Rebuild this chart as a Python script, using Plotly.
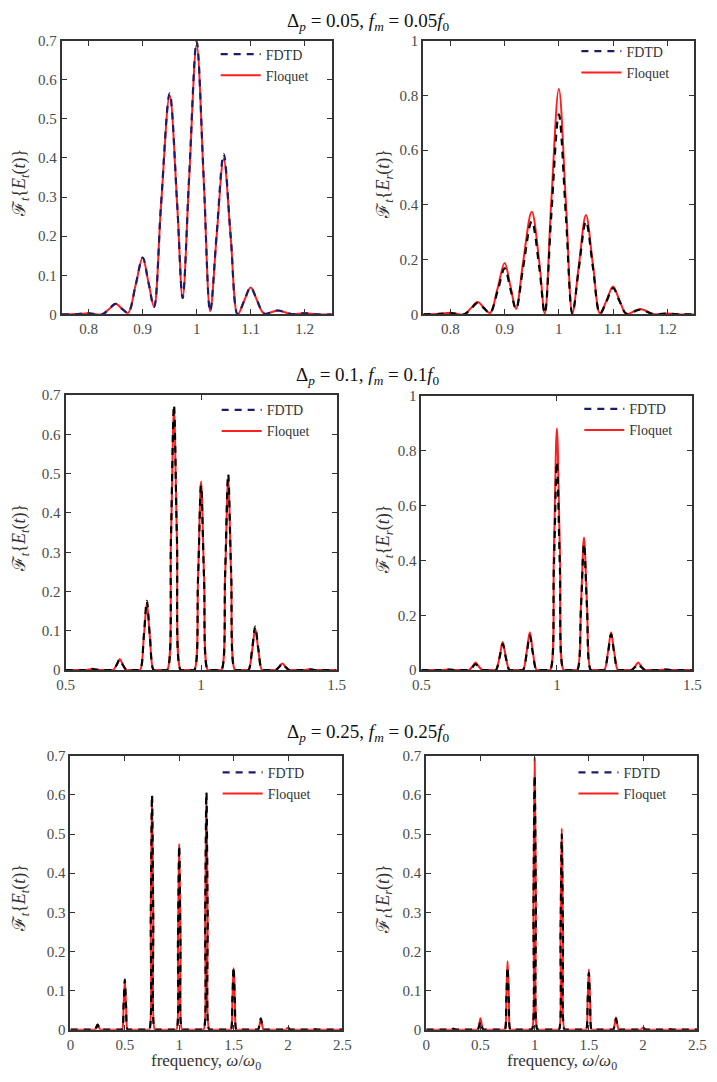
import plotly.graph_objects as go

W, H = 717, 1082

# ---------------- data ----------------
freq_top = [0.75, 0.78, 0.80, 0.825, 0.838, 0.85, 0.862, 0.873, 0.887, 0.90, 0.911,
            0.921, 0.934, 0.95, 0.964, 0.974, 0.986, 1.0, 1.013, 1.025, 1.037, 1.05,
            1.063, 1.076, 1.088, 1.10, 1.112, 1.125, 1.15, 1.175, 1.20, 1.225, 1.25]

p1_fdtd = [0, 0.001, 0.003, 0.0, 0.014, 0.027, 0.014, 0.004, 0.075, 0.145, 0.08,
           0.019, 0.28, 0.565, 0.28, 0.042, 0.35, 0.697, 0.35, 0.008, 0.205, 0.41,
           0.2, 0.0, 0.035, 0.069, 0.035, 0.002, 0.01, 0.001, 0.003, 0.0, 0.0]
p1_floq = [0, 0.001, 0.003, 0.0, 0.014, 0.027, 0.014, 0.004, 0.075, 0.145, 0.08,
           0.019, 0.278, 0.56, 0.278, 0.042, 0.345, 0.69, 0.345, 0.008, 0.2, 0.397,
           0.197, 0.0, 0.035, 0.069, 0.035, 0.002, 0.01, 0.001, 0.003, 0.0, 0.0]

p2_fdtd = [0, 0.002, 0.005, 0.0, 0.021, 0.042, 0.022, 0.005, 0.085, 0.168, 0.09,
           0.02, 0.17, 0.34, 0.17, 0.004, 0.36, 0.73, 0.36, 0.003, 0.17, 0.34,
           0.17, 0.003, 0.048, 0.096, 0.048, 0.002, 0.017, 0.001, 0.003, 0.0, 0.0]
p2_floq = [0, 0.002, 0.006, 0.0, 0.023, 0.045, 0.024, 0.005, 0.095, 0.188, 0.1,
           0.02, 0.19, 0.375, 0.19, 0.003, 0.41, 0.823, 0.41, 0.003, 0.18, 0.363,
           0.18, 0.003, 0.051, 0.102, 0.051, 0.002, 0.02, 0.001, 0.003, 0.0, 0.0]

freq_mid = [0.5,
            0.565, 0.575, 0.589, 0.6, 0.611, 0.625, 0.635,
            0.665, 0.675, 0.689, 0.7, 0.711, 0.725, 0.735,
            0.765, 0.775, 0.789, 0.8, 0.811, 0.825, 0.835,
            0.865, 0.875, 0.889, 0.9, 0.911, 0.925, 0.935,
            0.965, 0.975, 0.989, 1.0, 1.011, 1.025, 1.035,
            1.065, 1.075, 1.089, 1.1, 1.111, 1.125, 1.135,
            1.165, 1.175, 1.189, 1.2, 1.211, 1.225, 1.235,
            1.265, 1.275, 1.289, 1.3, 1.311, 1.325, 1.335,
            1.365, 1.375, 1.389, 1.4, 1.411, 1.425, 1.435,
            1.5]

p3_fdtd = [0,
           0, 0, 0.0015, 0.003, 0.0015, 0, 0,
           0, 0, 0.0135, 0.027, 0.0135, 0, 0,
           0, 0, 0.088, 0.176, 0.088, 0, 0,
           0, 0, 0.338, 0.675, 0.338, 0, 0,
           0, 0, 0.235, 0.47, 0.235, 0, 0,
           0, 0, 0.25, 0.499, 0.25, 0, 0,
           0, 0, 0.056, 0.111, 0.056, 0, 0,
           0, 0, 0.0085, 0.017, 0.0085, 0, 0,
           0, 0, 0.001, 0.002, 0.001, 0, 0,
           0]
p3_floq = [0,
           0, 0, 0.0015, 0.003, 0.0015, 0, 0,
           0, 0, 0.014, 0.028, 0.014, 0, 0,
           0, 0, 0.085, 0.17, 0.085, 0, 0,
           0, 0, 0.333, 0.665, 0.333, 0, 0,
           0, 0, 0.24, 0.48, 0.24, 0, 0,
           0, 0, 0.243, 0.486, 0.243, 0, 0,
           0, 0, 0.053, 0.105, 0.053, 0, 0,
           0, 0, 0.0085, 0.017, 0.0085, 0, 0,
           0, 0, 0.001, 0.002, 0.001, 0, 0,
           0]

p4_fdtd = [0,
           0, 0, 0.001, 0.002, 0.001, 0, 0,
           0, 0, 0.011, 0.022, 0.011, 0, 0,
           0, 0, 0.048, 0.095, 0.048, 0, 0,
           0, 0, 0.063, 0.126, 0.063, 0, 0,
           0, 0, 0.38, 0.76, 0.38, 0, 0,
           0, 0, 0.23, 0.46, 0.23, 0, 0,
           0, 0, 0.065, 0.13, 0.065, 0, 0,
           0, 0, 0.011, 0.022, 0.011, 0, 0,
           0, 0, 0.001, 0.002, 0.001, 0, 0,
           0]
p4_floq = [0,
           0, 0, 0.001, 0.002, 0.001, 0, 0,
           0, 0, 0.014, 0.028, 0.014, 0, 0,
           0, 0, 0.051, 0.102, 0.051, 0, 0,
           0, 0, 0.069, 0.138, 0.069, 0, 0,
           0, 0, 0.441, 0.882, 0.441, 0, 0,
           0, 0, 0.242, 0.484, 0.242, 0, 0,
           0, 0, 0.069, 0.138, 0.069, 0, 0,
           0, 0, 0.014, 0.028, 0.014, 0, 0,
           0, 0, 0.001, 0.002, 0.001, 0, 0,
           0]

freq_bot = [0,
            0.215, 0.225, 0.239, 0.25, 0.261, 0.275, 0.285,
            0.465, 0.475, 0.489, 0.5, 0.511, 0.525, 0.535,
            0.715, 0.725, 0.739, 0.75, 0.761, 0.775, 0.785,
            0.965, 0.975, 0.989, 1.0, 1.011, 1.025, 1.035,
            1.215, 1.225, 1.239, 1.25, 1.261, 1.275, 1.285,
            1.465, 1.475, 1.489, 1.5, 1.511, 1.525, 1.535,
            1.715, 1.725, 1.739, 1.75, 1.761, 1.775, 1.785,
            1.965, 1.975, 1.989, 2.0, 2.011, 2.025, 2.035,
            2.215, 2.225, 2.239, 2.25, 2.261, 2.275, 2.285,
            2.5]

p5_fdtd = [0,
           0, 0, 0.0065, 0.013, 0.0065, 0, 0,
           0, 0, 0.064, 0.128, 0.064, 0, 0,
           0, 0, 0.3, 0.6, 0.3, 0, 0,
           0, 0, 0.235, 0.47, 0.235, 0, 0,
           0, 0, 0.304, 0.607, 0.304, 0, 0,
           0, 0, 0.08, 0.16, 0.08, 0, 0,
           0, 0, 0.0145, 0.029, 0.0145, 0, 0,
           0, 0, 0.0025, 0.005, 0.0025, 0, 0,
           0, 0, 0.0005, 0.001, 0.0005, 0, 0,
           0]
p5_floq = [0,
           0, 0, 0.0065, 0.013, 0.0065, 0, 0,
           0, 0, 0.063, 0.125, 0.063, 0, 0,
           0, 0, 0.299, 0.597, 0.299, 0, 0,
           0, 0, 0.238, 0.475, 0.238, 0, 0,
           0, 0, 0.297, 0.593, 0.297, 0, 0,
           0, 0, 0.079, 0.157, 0.079, 0, 0,
           0, 0, 0.0135, 0.027, 0.0135, 0, 0,
           0, 0, 0.0025, 0.005, 0.0025, 0, 0,
           0, 0, 0.0005, 0.001, 0.0005, 0, 0,
           0]

p6_fdtd = [0,
           0, 0, 0.001, 0.002, 0.001, 0, 0,
           0, 0, 0.01, 0.02, 0.01, 0, 0,
           0, 0, 0.08, 0.16, 0.08, 0, 0,
           0, 0, 0.325, 0.65, 0.325, 0, 0,
           0, 0, 0.25, 0.5, 0.25, 0, 0,
           0, 0, 0.073, 0.145, 0.073, 0, 0,
           0, 0, 0.014, 0.028, 0.014, 0, 0,
           0, 0, 0.0025, 0.005, 0.0025, 0, 0,
           0, 0, 0.0005, 0.001, 0.0005, 0, 0,
           0]
p6_floq = [0,
           0, 0, 0.0015, 0.003, 0.0015, 0, 0,
           0, 0, 0.0145, 0.029, 0.0145, 0, 0,
           0, 0, 0.088, 0.175, 0.088, 0, 0,
           0, 0, 0.347, 0.694, 0.347, 0, 0,
           0, 0, 0.258, 0.515, 0.258, 0, 0,
           0, 0, 0.077, 0.154, 0.077, 0, 0,
           0, 0, 0.0155, 0.031, 0.0155, 0, 0,
           0, 0, 0.0025, 0.005, 0.0025, 0, 0,
           0, 0, 0.0005, 0.001, 0.0005, 0, 0,
           0]

# tick values / labels
xt_top = [0.8, 0.9, 1.0, 1.1, 1.2]
xt_top_lbl = ["0.8", "0.9", "1", "1.1", "1.2"]
xt_mid = [0.5, 1.0, 1.5]
xt_mid_lbl = ["0.5", "1", "1.5"]
xt_bot = [0, 0.5, 1.0, 1.5, 2.0, 2.5]
xt_bot_lbl = ["0", "0.5", "1", "1.5", "2", "2.5"]
yt_07 = [0, 0.1, 0.2, 0.3, 0.4, 0.5, 0.6, 0.7]
yt_07_lbl = ["0", "0.1", "0.2", "0.3", "0.4", "0.5", "0.6", "0.7"]
yt_10 = [0, 0.2, 0.4, 0.6, 0.8, 1.0]
yt_10_lbl = ["0", "0.2", "0.4", "0.6", "0.8", "1"]

row_titles = [
    "Δ<sub><i>p</i></sub> = 0.05, <i>f</i><sub><i>m</i></sub> = 0.05<i>f</i><sub>0</sub>",
    "Δ<sub><i>p</i></sub> = 0.1, <i>f</i><sub><i>m</i></sub> = 0.1<i>f</i><sub>0</sub>",
    "Δ<sub><i>p</i></sub> = 0.25, <i>f</i><sub><i>m</i></sub> = 0.25<i>f</i><sub>0</sub>",
]
ylab_t = "ℱ<sub><i>t</i></sub>{<i>E</i><sub><i>t</i></sub>(<i>t</i>)}"
ylab_r = "ℱ<sub><i>t</i></sub>{<i>E</i><sub><i>r</i></sub>(<i>t</i>)}"
xlab = "frequency, <i>ω</i>/<i>ω</i><sub>0</sub>"

# ---------------- styling / layout ----------------
SERIF = "Liberation Serif, Times New Roman, DejaVu Serif, serif"
NAVY = "#1c1c6e"
RED = "#ff1f1f"
AXC = "#333333"
TICKC = "#4a4a4a"

# pixel boxes (left, right, top, bottom)
boxes = [(54, 331, 33, 311), (425, 703, 33, 311),
         (58, 336, 393, 672), (423, 701, 394, 672),
         (63, 342, 759, 1037), (428, 706, 759, 1037)]
legend_pos = [(212, 31), (582, 28), (213, 392), (585, 391), (214, 760), (579, 760)]

panels = [
    dict(x=freq_top, fd=p1_fdtd, fq=p1_floq, xr=[0.75, 1.25], yr=[0, 0.7],
         xt=xt_top, xtl=xt_top_lbl, yt=yt_07, ytl=yt_07_lbl, lab=ylab_t, fdc=NAVY),
    dict(x=freq_top, fd=p2_fdtd, fq=p2_floq, xr=[0.75, 1.25], yr=[0, 1.0],
         xt=xt_top, xtl=xt_top_lbl, yt=yt_10, ytl=yt_10_lbl, lab=ylab_r, fdc="#000000"),
    dict(x=freq_mid, fd=p3_fdtd, fq=p3_floq, xr=[0.5, 1.5], yr=[0, 0.7],
         xt=xt_mid, xtl=xt_mid_lbl, yt=yt_07, ytl=yt_07_lbl, lab=ylab_t, fdc="#000000"),
    dict(x=freq_mid, fd=p4_fdtd, fq=p4_floq, xr=[0.5, 1.5], yr=[0, 1.0],
         xt=xt_mid, xtl=xt_mid_lbl, yt=yt_10, ytl=yt_10_lbl, lab=ylab_r, fdc="#000000"),
    dict(x=freq_bot, fd=p5_fdtd, fq=p5_floq, xr=[0, 2.5], yr=[0, 0.7],
         xt=xt_bot, xtl=xt_bot_lbl, yt=yt_07, ytl=yt_07_lbl, lab=ylab_t, fdc="#000000"),
    dict(x=freq_bot, fd=p6_fdtd, fq=p6_floq, xr=[0, 2.5], yr=[0, 0.7],
         xt=xt_bot, xtl=xt_bot_lbl, yt=yt_07, ytl=yt_07_lbl, lab=ylab_r, fdc="#000000"),
]

fig = go.Figure()
layout = dict(width=W, height=H, margin=dict(l=0, r=0, t=0, b=0),
              paper_bgcolor="white", plot_bgcolor="white", showlegend=True,
              font=dict(family=SERIF, size=15, color=AXC))
annotations = []

DASH = "7px,6px"

for i, p in enumerate(panels):
    n = i + 1
    xa = "x" if n == 1 else f"x{n}"
    ya = "y" if n == 1 else f"y{n}"
    lg = "legend" if n == 1 else f"legend{n}"
    # legend-only FDTD entry
    fig.add_trace(go.Scatter(x=[None], y=[None], mode="lines", name="FDTD",
                             line=dict(color=NAVY, width=2.2, dash=DASH),
                             xaxis=xa, yaxis=ya, legend=lg))
    fig.add_trace(go.Scatter(x=p["x"], y=p["fq"], mode="lines", name="Floquet",
                             line=dict(color=RED, width=2, shape="spline", smoothing=1.0),
                             xaxis=xa, yaxis=ya, legend=lg))
    fig.add_trace(go.Scatter(x=p["x"], y=p["fd"], mode="lines", name="FDTD",
                             showlegend=False,
                             line=dict(color=p["fdc"], width=2.2, dash=DASH,
                                       shape="spline", smoothing=1.0),
                             xaxis=xa, yaxis=ya, legend=lg))
    l, r, t, b = boxes[i]
    common = dict(showline=True, linecolor=AXC, linewidth=2, mirror="allticks",
                  ticks="inside", ticklen=5, tickwidth=1, tickcolor=AXC,
                  showgrid=False, zeroline=False,
                  tickfont=dict(family=SERIF, size=15, color=TICKC))
    layout["xaxis" if n == 1 else f"xaxis{n}"] = dict(
        domain=[l / W, r / W], range=p["xr"], tickvals=p["xt"], ticktext=p["xtl"],
        anchor=ya, **common)
    layout["yaxis" if n == 1 else f"yaxis{n}"] = dict(
        domain=[1 - b / H, 1 - t / H], range=p["yr"], tickvals=p["yt"], ticktext=p["ytl"],
        anchor=xa, **common)
    lx, ly = legend_pos[i]
    layout[lg] = dict(x=lx / W, y=1 - ly / H, xanchor="left", yanchor="top",
                      bgcolor="rgba(0,0,0,0)", borderwidth=0, itemwidth=40,
                      font=dict(family=SERIF, size=14, color="#333333"),
                      tracegroupgap=0)
    # y label
    labx = 12 if i % 2 == 0 else 385
    annotations.append(dict(text=p["lab"], x=labx / W, y=1 - ((t + b) / 2 + 6) / H,
                            xref="paper", yref="paper", showarrow=False, textangle=-90,
                            xanchor="center", yanchor="middle",
                            font=dict(family=SERIF, size=18, color="#333333")))
    if i >= 4:
        annotations.append(dict(text=xlab, x=((l + r) / 2) / W, y=1 - 1070 / H,
                                xref="paper", yref="paper", showarrow=False,
                                xanchor="center", yanchor="middle",
                                font=dict(family=SERIF, size=17, color="#333333")))

for k, ty in enumerate([14, 374, 736]):
    annotations.append(dict(text=row_titles[k], x=368 / W, y=1 - ty / H,
                            xref="paper", yref="paper", showarrow=False,
                            xanchor="center", yanchor="middle",
                            font=dict(family=SERIF, size=19, color="#111111")))

layout["annotations"] = annotations
fig.update_layout(**layout)
fig.write_html("out.html")
